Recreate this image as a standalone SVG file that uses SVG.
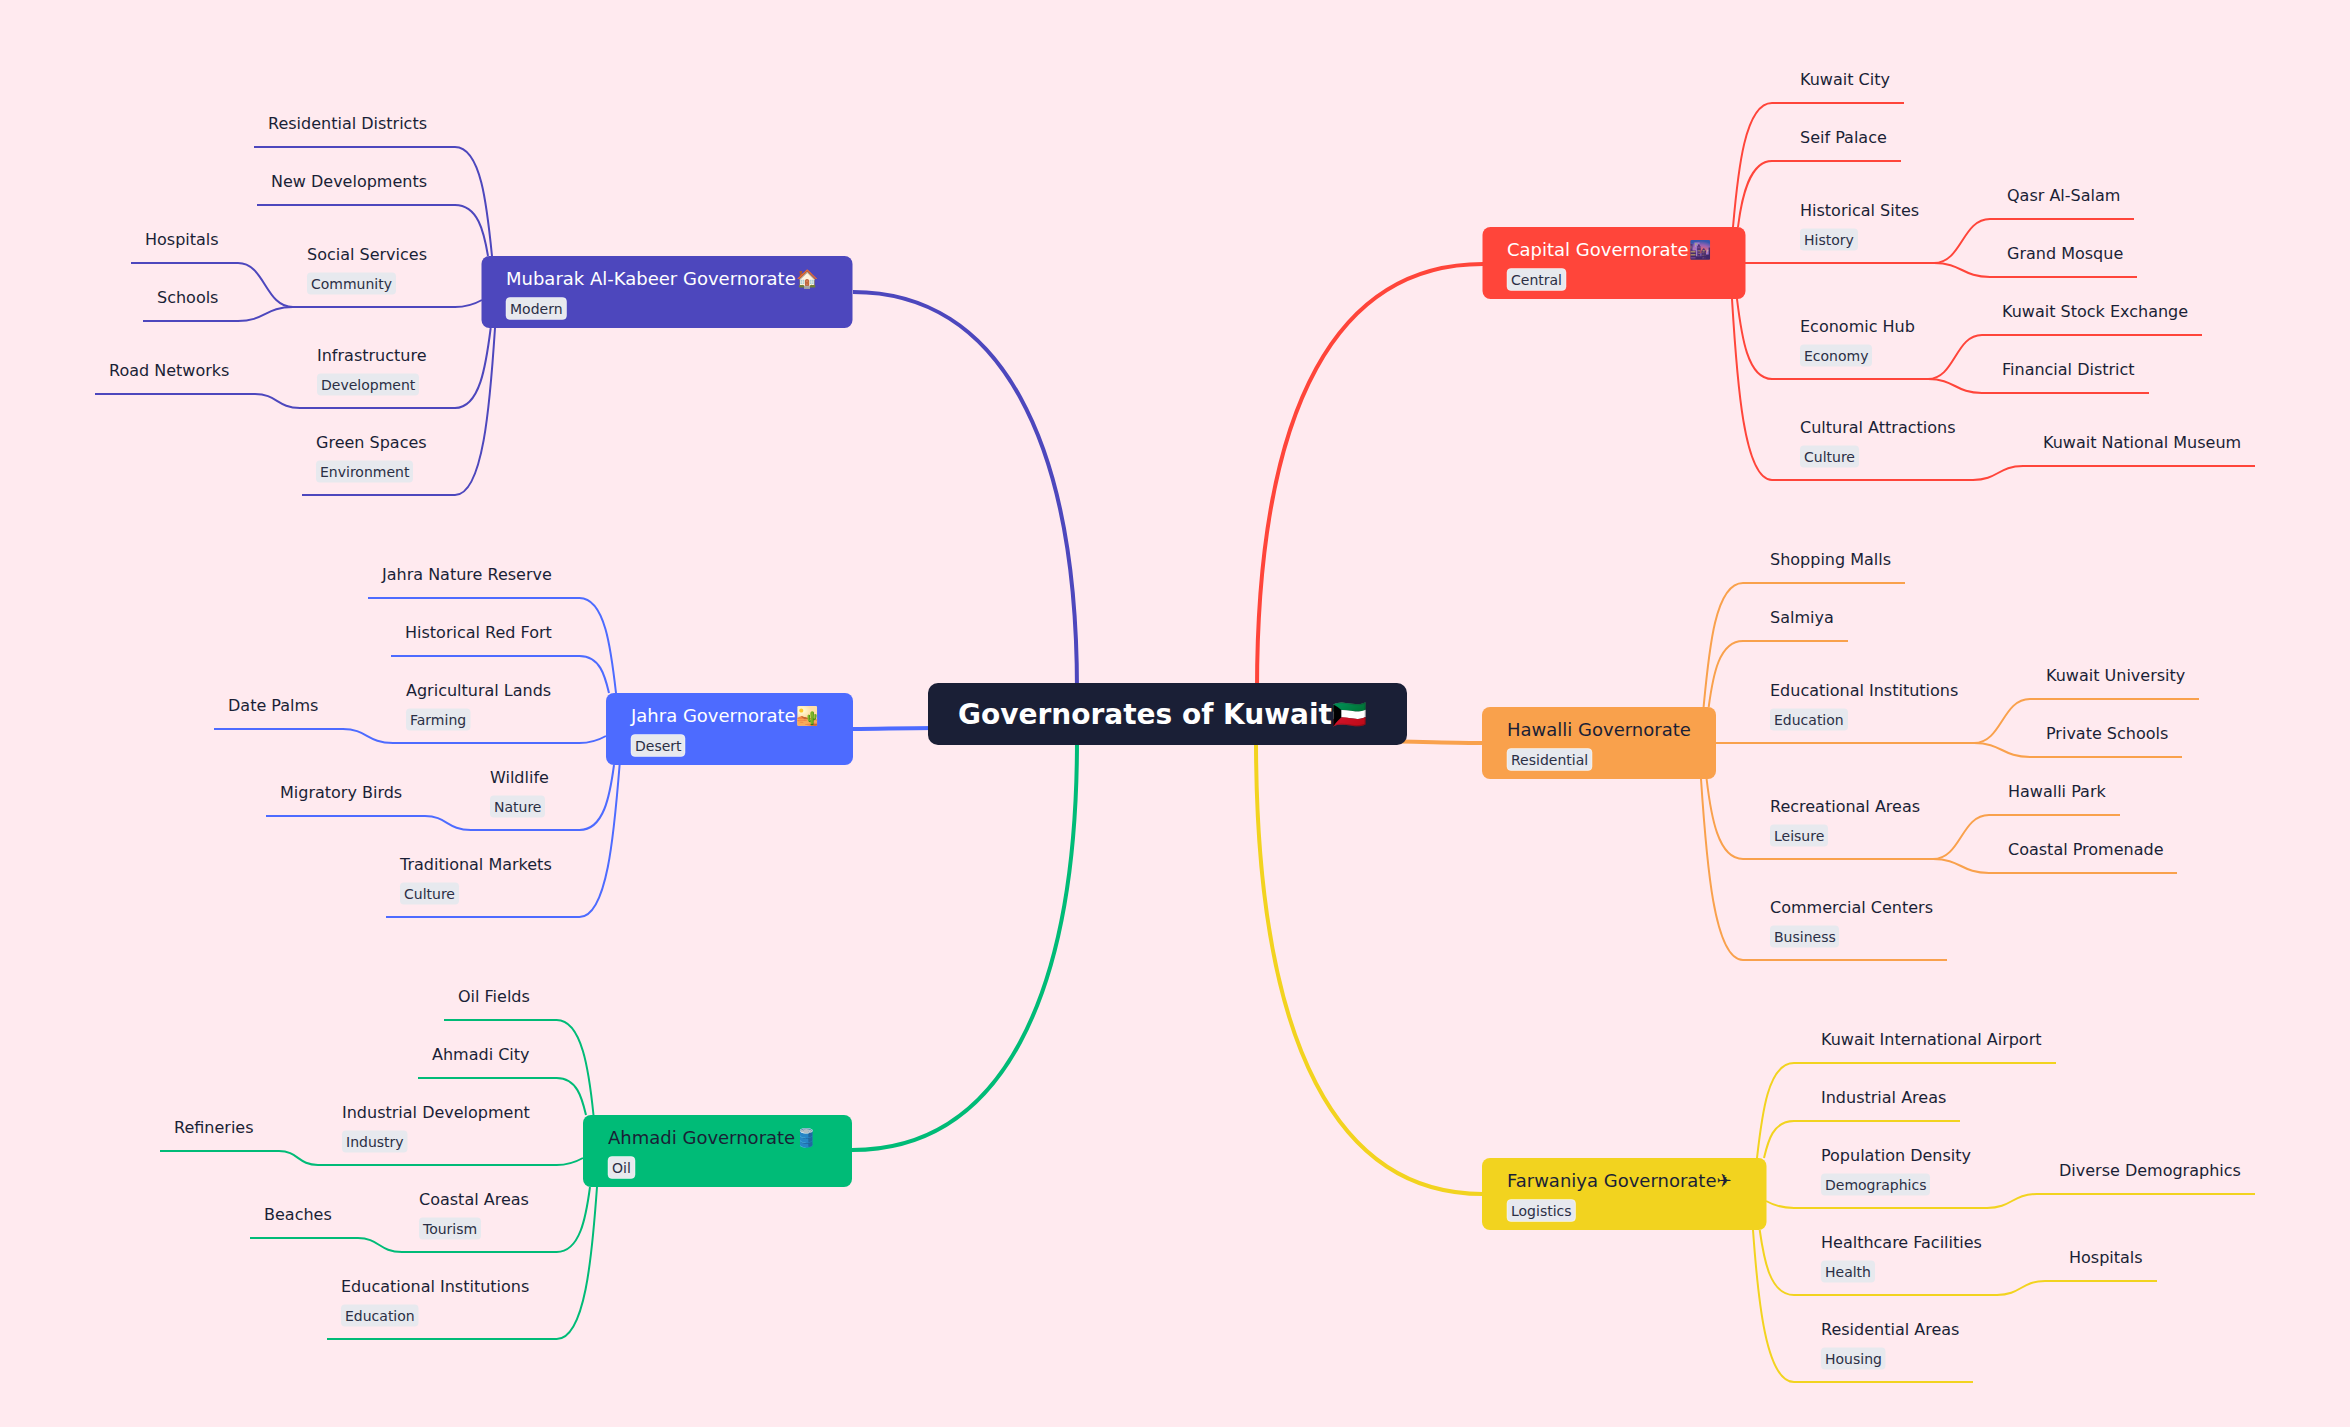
<svg xmlns="http://www.w3.org/2000/svg" width="2350" height="1427" viewBox="0 0 2350 1427">
<style>
text{font-family:"DejaVu Sans",sans-serif;fill:#1a1f36;font-size:16px}
.c{fill:none;stroke-width:2}
.r{stroke-width:4;fill:none}
.red{stroke:#ff453a}.org{stroke:#f9a14c}.yel{stroke:#f2d31f}.grn{stroke:#00bb77}.blu{stroke:#4d6bff}.pur{stroke:#4d47bd}
.n{font-size:18px}.w{fill:#fff}
text.t{font-size:14px;fill:#2b2f45}
.tb{fill:#e7e9ee;rx:4px}
.ts{fill:#e7e9ee;stroke:#fff;stroke-opacity:.45;stroke-width:1;rx:4px}
</style>
<rect width="2350" height="1427" fill="#ffeaef"/>
<g id="connectors">
<path class="r pur" d="M853 292C1000 292 1077 440 1077 690"/>
<path class="r grn" d="M852 1150C1000 1150 1077 1000 1077 740"/>
<path class="r red" d="M1483 264C1340 264 1257 400 1257 690"/>
<path class="r yel" d="M1483 1194C1340 1194 1256 1050 1256 740"/>
<path class="r blu" d="M853 729C880 729 900 728 935 728"/>
<path class="r org" d="M1483 743C1460 743 1430 742 1400 741.5"/>
<g class="c red">
<path d="M1733 227C1738 170 1745 103 1772 103H1904"/>
<path d="M1738 227C1742 195 1750 161 1772 161H1901"/>
<path d="M1745 263H1934C1962 263 1962 219 1990 219H2134"/>
<path d="M1934 263C1962 263 1962 277 1990 277H2137"/>
<path d="M1737 299C1741.500 336 1747.500 379 1772 379H1928C1955 379 1955 335 1982 335H2202"/>
<path d="M1928 379C1955 379 1955 393 1982 393H2149"/>
<path d="M1732 299C1737 382 1744 480 1772 480H1973C1998 480 1998 466 2023 466H2255"/>
</g>
<g class="c org">
<path d="M1703.600 707C1709 650 1715 583 1743 583H1905"/>
<path d="M1708.700 707C1713 675 1719 641 1743 641H1848"/>
<path d="M1716 743H1974C2002 743 2002 699 2030 699H2199"/>
<path d="M1974 743C2002 743 2002 757 2030 757H2182"/>
<path d="M1706.600 779C1711 816 1718 859 1743 859H1933C1961 859 1961 815 1989 815H2120"/>
<path d="M1933 859C1961 859 1961 873 1989 873H2177"/>
<path d="M1701 779C1706.500 862 1714 960 1743 960H1947"/>
</g>
<g class="c yel">
<path d="M1757 1158C1762 1114 1768 1063 1794 1063H2056"/>
<path d="M1764 1158C1768 1141 1773 1121 1794 1121H1960"/>
<path d="M1766 1201C1775 1206 1783 1208 1794 1208H1987C2012 1208 2012 1194 2037 1194H2255"/>
<path d="M1759.700 1230C1764 1260 1770 1295 1794 1295H1997C2021 1295 2021 1281 2045 1281H2157"/>
<path d="M1753 1230C1758 1300 1766 1382 1794 1382H1973"/>
</g>
<g class="c pur">
<path d="M492 256C487 206 481 147 455 147H254"/>
<path d="M488 256C484 232 478 205 455 205H257"/>
<path d="M482 300C473 305 465 307 455 307H293C265 307 265 263 238 263H131"/>
<path d="M293 307C265 307 265 321 238 321H143"/>
<path d="M490.700 328C486 365 480 408 455 408H300C277 408 277 394 255 394H95"/>
<path d="M495 328C490 405 483 495 455 495H302"/>
</g>
<g class="c blu">
<path d="M616 693C611 649 605 598 579.500 598H368"/>
<path d="M609 693C605 676 600 656 579.500 656H391"/>
<path d="M606 736C597 741 590 743 579.500 743H393C367 743 367 729 343 729H214"/>
<path d="M614 765C610 795 604 830 579.500 830H471C447 830 447 816 425 816H266"/>
<path d="M619.600 765C614 835 607 917 579.500 917H386"/>
</g>
<g class="c grn">
<path d="M593.500 1115C589 1071 582 1020 556.700 1020H444"/>
<path d="M586 1115C582 1098 577 1078 556.700 1078H418"/>
<path d="M583 1158C574 1163 567 1165 556.700 1165H318C298 1165 298 1151 279 1151H160"/>
<path d="M590 1187C586 1217 580 1252 556.700 1252H402C379 1252 379 1238 358 1238H250"/>
<path d="M597 1187C592 1257 585 1339 556.700 1339H327"/>
</g>
</g>
<g id="root"><rect x="928" y="683" width="479" height="62" rx="10" fill="#1a1f36"/><text x="958" y="724" style="font-size:28px;font-weight:700;fill:#fff">Governorates of Kuwait🇰🇼</text></g>

<g id="capital"><rect x="1482.500" y="227" width="263" height="72" rx="8" fill="#ff453a"/><text class="n w" x="1507" y="256">Capital Governorate🌆</text><rect class="ts" x="1507" y="268.500" width="59" height="22"/><text class="t" x="1511" y="285">Central</text></g>
<g id="kuwait-city"><text x="1800" y="85">Kuwait City</text></g>
<g id="seif-palace"><text x="1800" y="143">Seif Palace</text></g>
<g id="historical-sites"><text x="1800" y="216">Historical Sites</text><rect class="tb" x="1800" y="228.500" width="58" height="22"/><text class="t" x="1804" y="245">History</text></g>
<g id="qasr"><text x="2007" y="201">Qasr Al-Salam</text></g>
<g id="grand-mosque"><text x="2007" y="259">Grand Mosque</text></g>
<g id="economic-hub"><text x="1800" y="332">Economic Hub</text><rect class="tb" x="1800" y="344.500" width="72" height="22"/><text class="t" x="1804" y="361">Economy</text></g>
<g id="stock-exchange"><text x="2002" y="317">Kuwait Stock Exchange</text></g>
<g id="financial-district"><text x="2002" y="375">Financial District</text></g>
<g id="cultural-attractions"><text x="1800" y="433">Cultural Attractions</text><rect class="tb" x="1800" y="445.500" width="59" height="22"/><text class="t" x="1804" y="462">Culture</text></g>
<g id="national-museum"><text x="2043" y="448">Kuwait National Museum</text></g>

<g id="hawalli"><rect x="1482" y="707" width="234" height="72" rx="8" fill="#f9a14c"/><text class="n" x="1507" y="736">Hawalli Governorate</text><rect class="ts" x="1507" y="748.500" width="85" height="22"/><text class="t" x="1511" y="765">Residential</text></g>
<g id="shopping-malls"><text x="1770" y="565">Shopping Malls</text></g>
<g id="salmiya"><text x="1770" y="623">Salmiya</text></g>
<g id="hawalli-edu"><text x="1770" y="696">Educational Institutions</text><rect class="tb" x="1770" y="708.500" width="78" height="22"/><text class="t" x="1774" y="725">Education</text></g>
<g id="kuwait-university"><text x="2046" y="681">Kuwait University</text></g>
<g id="private-schools"><text x="2046" y="739">Private Schools</text></g>
<g id="recreational-areas"><text x="1770" y="812">Recreational Areas</text><rect class="tb" x="1770" y="824.500" width="58" height="22"/><text class="t" x="1774" y="841">Leisure</text></g>
<g id="hawalli-park"><text x="2008" y="797">Hawalli Park</text></g>
<g id="coastal-promenade"><text x="2008" y="855">Coastal Promenade</text></g>
<g id="commercial-centers"><text x="1770" y="913">Commercial Centers</text><rect class="tb" x="1770" y="925.500" width="69" height="22"/><text class="t" x="1774" y="942">Business</text></g>

<g id="farwaniya"><rect x="1482" y="1158" width="284.500" height="72" rx="8" fill="#f2d31f"/><text class="n" x="1507" y="1187">Farwaniya Governorate✈</text><rect class="ts" x="1507" y="1199.500" width="68.500" height="22"/><text class="t" x="1511" y="1216">Logistics</text></g>
<g id="airport"><text x="1821" y="1045">Kuwait International Airport</text></g>
<g id="industrial-areas"><text x="1821" y="1103">Industrial Areas</text></g>
<g id="population-density"><text x="1821" y="1161">Population Density</text><rect class="tb" x="1821" y="1173.500" width="109" height="22"/><text class="t" x="1825" y="1190">Demographics</text></g>
<g id="diverse-demographics"><text x="2059" y="1176">Diverse Demographics</text></g>
<g id="healthcare"><text x="1821" y="1248">Healthcare Facilities</text><rect class="tb" x="1821" y="1260.500" width="54" height="22"/><text class="t" x="1825" y="1277">Health</text></g>
<g id="hospitals-f"><text x="2069" y="1263">Hospitals</text></g>
<g id="residential-areas"><text x="1821" y="1335">Residential Areas</text><rect class="tb" x="1821" y="1347.500" width="64.500" height="22"/><text class="t" x="1825" y="1364">Housing</text></g>

<g id="mubarak"><rect x="481.500" y="256" width="371" height="72" rx="8" fill="#4d47bd"/><text class="n w" x="506" y="285">Mubarak Al-Kabeer Governorate🏠</text><rect class="ts" x="506" y="297.500" width="60.500" height="22"/><text class="t" x="510" y="314">Modern</text></g>
<g id="residential-districts"><text x="268" y="129">Residential Districts</text></g>
<g id="new-developments"><text x="271" y="187">New Developments</text></g>
<g id="social-services"><text x="307" y="260">Social Services</text><rect class="tb" x="307" y="272.500" width="89" height="22"/><text class="t" x="311" y="289">Community</text></g>
<g id="hospitals-m"><text x="145" y="245">Hospitals</text></g>
<g id="schools"><text x="157" y="303">Schools</text></g>
<g id="infrastructure"><text x="317" y="361">Infrastructure</text><rect class="tb" x="317" y="373.500" width="102" height="22"/><text class="t" x="321" y="390">Development</text></g>
<g id="road-networks"><text x="109" y="376">Road Networks</text></g>
<g id="green-spaces"><text x="316" y="448">Green Spaces</text><rect class="tb" x="316" y="460.500" width="97" height="22"/><text class="t" x="320" y="477">Environment</text></g>

<g id="jahra"><rect x="606" y="693" width="247" height="72" rx="8" fill="#4d6bff"/><text class="n w" x="631" y="722">Jahra Governorate🏜️</text><rect class="ts" x="631" y="734.500" width="54" height="22"/><text class="t" x="635" y="751">Desert</text></g>
<g id="nature-reserve"><text x="382" y="580">Jahra Nature Reserve</text></g>
<g id="red-fort"><text x="405" y="638">Historical Red Fort</text></g>
<g id="agricultural-lands"><text x="406" y="696">Agricultural Lands</text><rect class="tb" x="406" y="708.500" width="64.500" height="22"/><text class="t" x="410" y="725">Farming</text></g>
<g id="date-palms"><text x="228" y="711">Date Palms</text></g>
<g id="wildlife"><text x="490" y="783">Wildlife</text><rect class="tb" x="490" y="795.500" width="55" height="22"/><text class="t" x="494" y="812">Nature</text></g>
<g id="migratory-birds"><text x="280" y="798">Migratory Birds</text></g>
<g id="traditional-markets"><text x="400" y="870">Traditional Markets</text><rect class="tb" x="400" y="882.500" width="59" height="22"/><text class="t" x="404" y="899">Culture</text></g>

<g id="ahmadi"><rect x="583" y="1115" width="269" height="72" rx="8" fill="#00bb77"/><text class="n" x="608" y="1144">Ahmadi Governorate🛢️</text><rect class="ts" x="608" y="1156.500" width="27" height="22"/><text class="t" x="612" y="1173">Oil</text></g>
<g id="oil-fields"><text x="458" y="1002">Oil Fields</text></g>
<g id="ahmadi-city"><text x="432" y="1060">Ahmadi City</text></g>
<g id="industrial-development"><text x="342" y="1118">Industrial Development</text><rect class="tb" x="342" y="1130.500" width="65.500" height="22"/><text class="t" x="346" y="1147">Industry</text></g>
<g id="refineries"><text x="174" y="1133">Refineries</text></g>
<g id="coastal-areas"><text x="419" y="1205">Coastal Areas</text><rect class="tb" x="419" y="1217.500" width="62" height="22"/><text class="t" x="423" y="1234">Tourism</text></g>
<g id="beaches"><text x="264" y="1220">Beaches</text></g>
<g id="ahmadi-edu"><text x="341" y="1292">Educational Institutions</text><rect class="tb" x="341" y="1304.500" width="77.500" height="22"/><text class="t" x="345" y="1321">Education</text></g>
</svg>
